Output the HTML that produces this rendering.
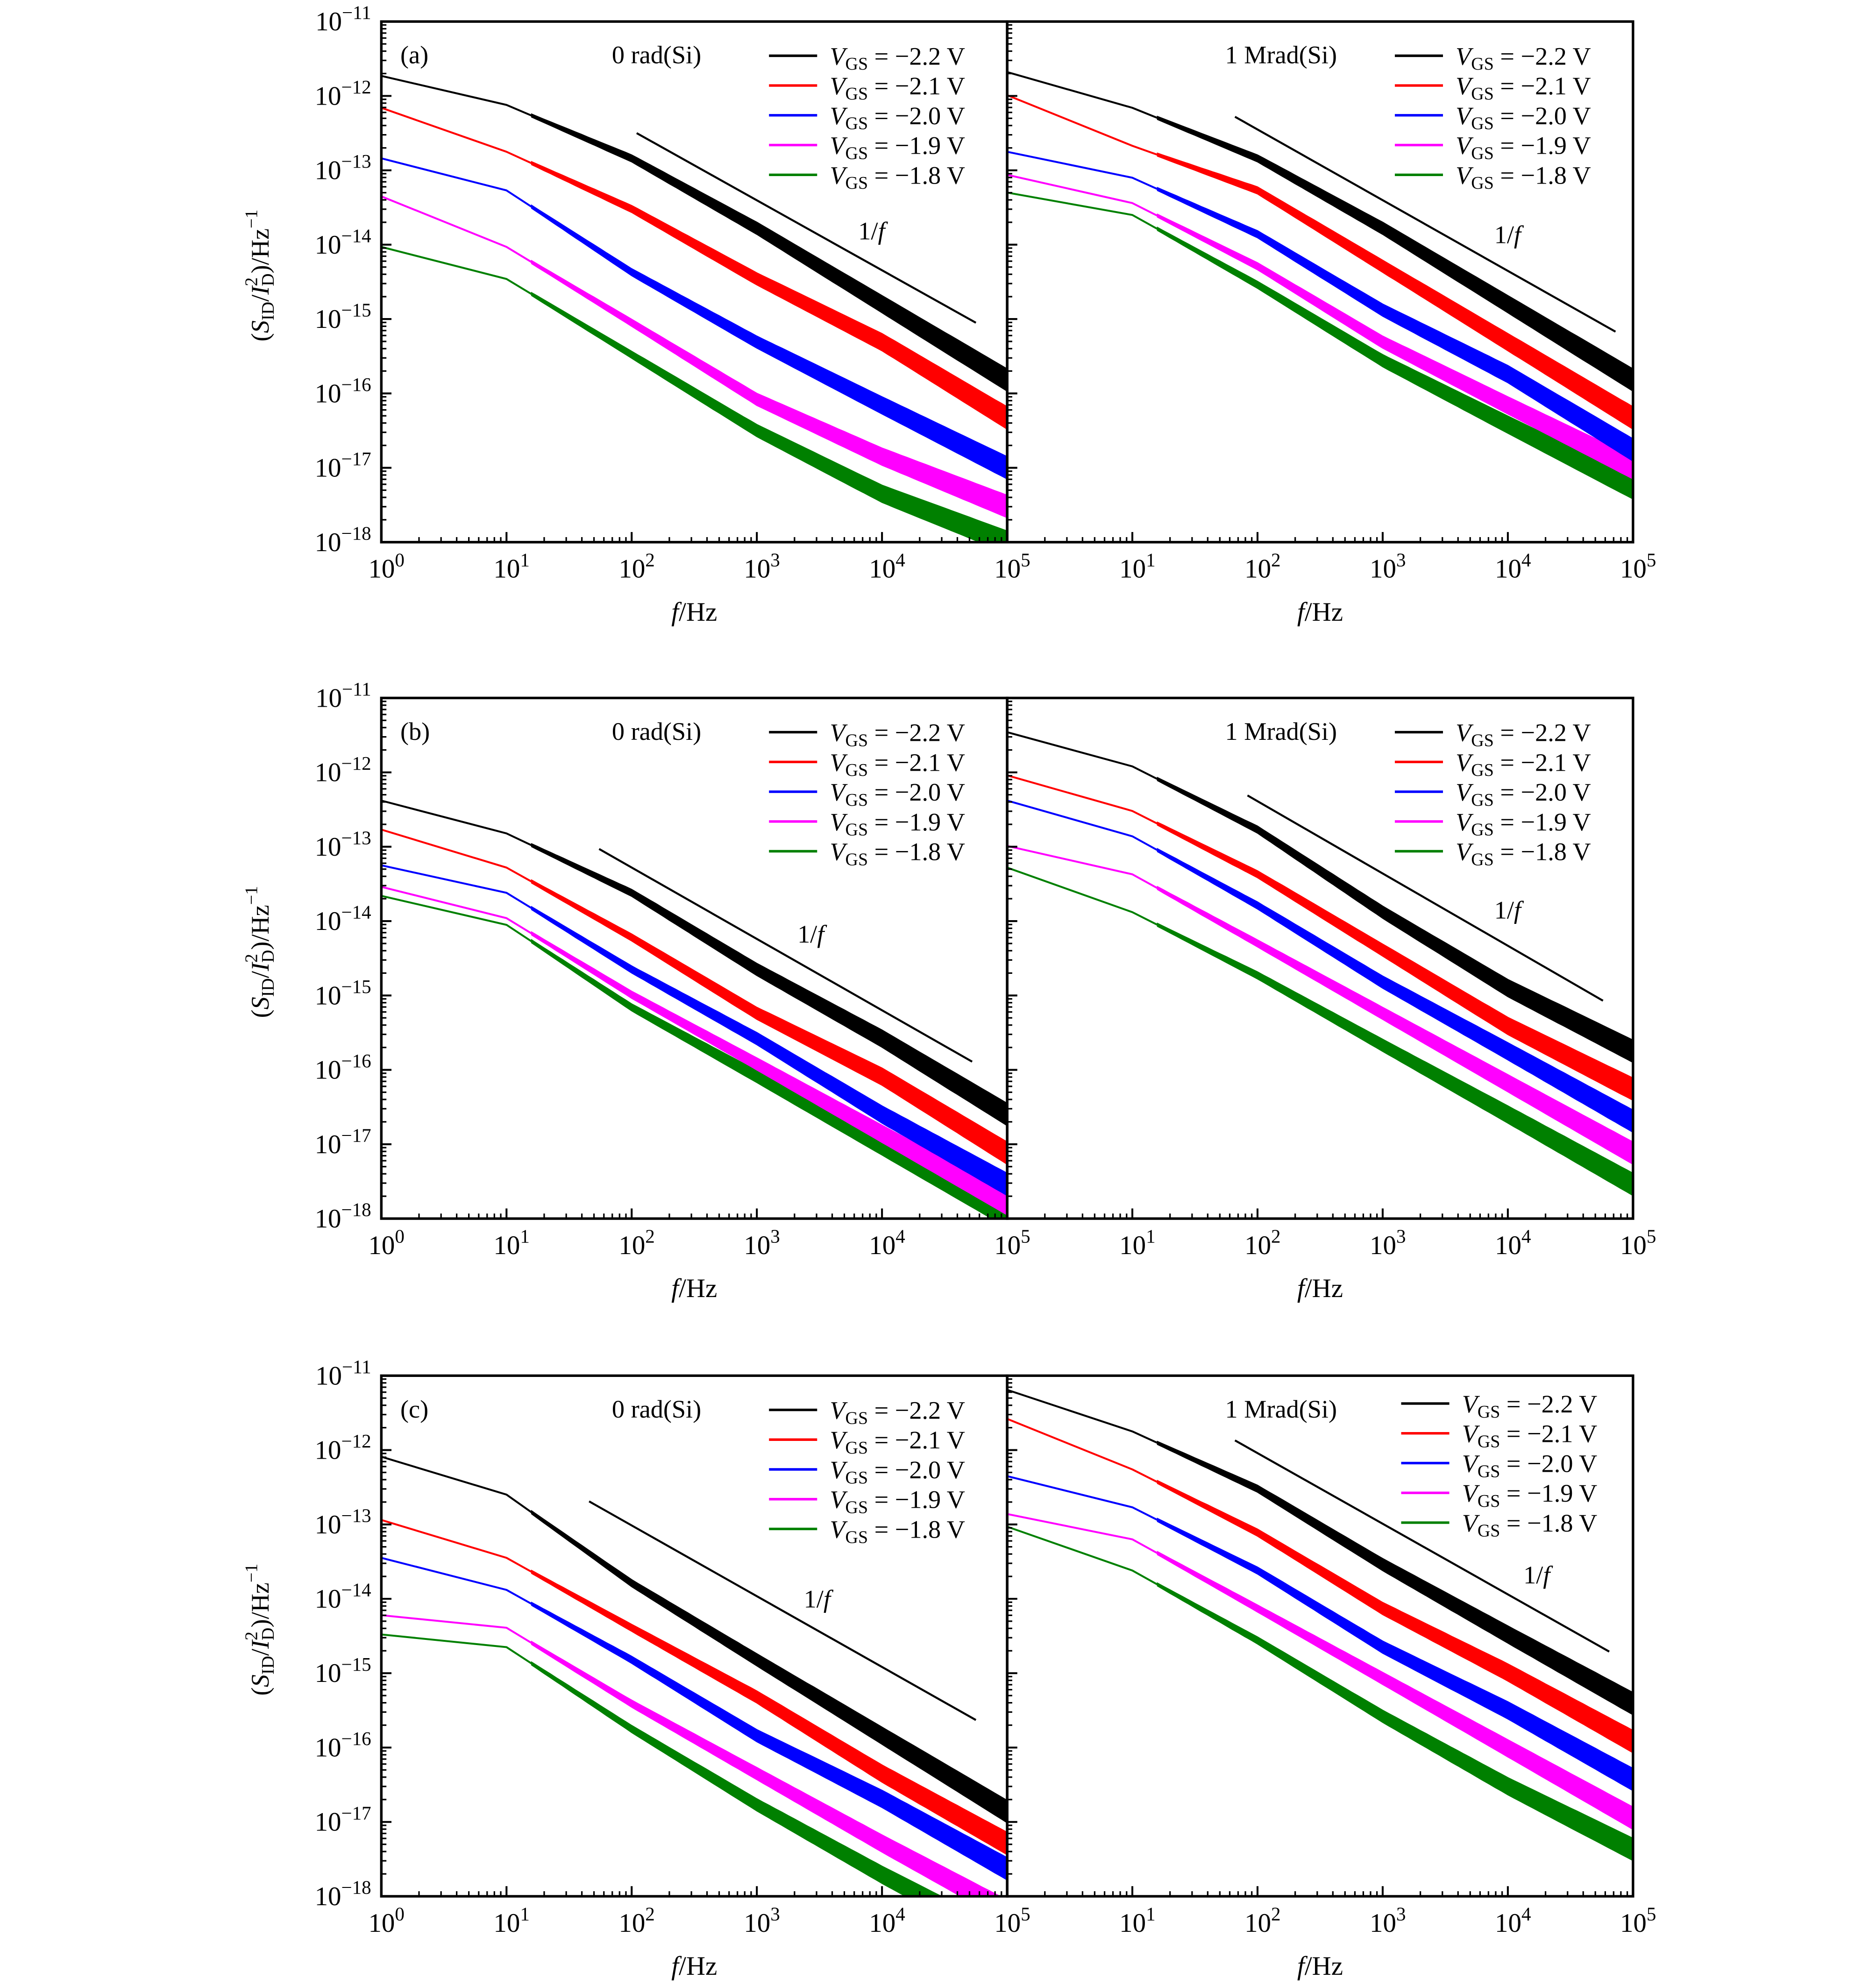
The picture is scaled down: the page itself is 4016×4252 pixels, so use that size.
<!DOCTYPE html>
<html><head><meta charset="utf-8"><style>
html,body{margin:0;padding:0;background:#fff;}
svg{display:block;}
text{font-family:"Liberation Serif",serif;fill:#000;}
</style></head><body>
<svg id="chart" xmlns="http://www.w3.org/2000/svg" width="4016" height="4252" viewBox="0 0 1480.8 1567.8">
</svg>
<script>
// ---- data (log10 of S_ID/I_D^2) at log10(f) anchors ----
const logF = [0, 1, 2, 3, 4, 5];
const seriesLabels = ["\u22122.2", "\u22122.1", "\u22122.0", "\u22121.9", "\u22121.8"];
const seriesColors = ["#000000", "#ff0000", "#0000ff", "#ff00ff", "#008000"];
const aLeftBlack = [-11.73, -12.12, -12.84, -13.78, -14.8, -15.82];
const aLeftRed = [-12.16, -12.75, -13.52, -14.46, -15.31, -16.33];
const aLeftBlue = [-12.84, -13.27, -14.37, -15.31, -16.16, -17.0];
const aLeftMagenta = [-13.35, -14.03, -15.05, -16.08, -16.85, -17.52];
const aLeftGreen = [-14.03, -14.46, -15.48, -16.5, -17.35, -18.0];
const aRightBlack = [-11.68, -12.16, -12.84, -13.78, -14.8, -15.82];
const aRightRed = [-11.99, -12.67, -13.27, -14.29, -15.31, -16.33];
const aRightBlue = [-12.75, -13.1, -13.86, -14.88, -15.74, -16.76];
const aRightMagenta = [-13.06, -13.44, -14.29, -15.31, -16.16, -17.0];
const aRightGreen = [-13.3, -13.6, -14.54, -15.56, -16.42, -17.27];
const bLeftBlack = [-12.38, -12.82, -13.62, -14.65, -15.58, -16.6];
const bLeftRed = [-12.77, -13.28, -14.22, -15.24, -16.09, -17.12];
const bLeftBlue = [-13.25, -13.62, -14.65, -15.58, -16.6, -17.54];
const bLeftMagenta = [-13.54, -13.96, -14.99, -15.92, -16.86, -17.8];
const bLeftGreen = [-13.66, -14.05, -15.16, -16.09, -17.03, -17.97];
const bRightBlack = [-11.46, -11.92, -12.77, -13.88, -14.9, -15.75];
const bRightRed = [-12.04, -12.52, -13.37, -14.39, -15.41, -16.26];
const bRightBlue = [-12.38, -12.86, -13.79, -14.82, -15.75, -16.69];
const bRightMagenta = [-12.99, -13.37, -14.3, -15.24, -16.18, -17.12];
const bRightGreen = [-13.28, -13.88, -14.73, -15.67, -16.6, -17.54];
const cLeftBlack = [-12.09, -12.6, -13.79, -14.82, -15.84, -16.86];
const cLeftRed = [-12.94, -13.45, -14.39, -15.32, -16.35, -17.29];
const cLeftBlue = [-13.45, -13.88, -14.82, -15.84, -16.69, -17.63];
const cLeftMagenta = [-14.22, -14.39, -15.41, -16.35, -17.29, -18.2];
const cLeftGreen = [-14.48, -14.65, -15.75, -16.77, -17.71, -18.6];
const cRightBlack = [-11.19, -11.75, -12.52, -13.54, -14.48, -15.41];
const cRightRed = [-11.58, -12.26, -13.11, -14.13, -14.99, -15.92];
const cRightBlue = [-12.35, -12.77, -13.62, -14.65, -15.5, -16.43];
const cRightMagenta = [-12.86, -13.2, -14.13, -15.07, -16.01, -16.95];
const cRightGreen = [-13.03, -13.62, -14.56, -15.58, -16.52, -17.37];
const yTickExp = [-11, -12, -13, -14, -15, -16, -17, -18];
const xTickExpLeft = [0, 1, 2, 3, 4, 5];
const xTickExpRight = [1, 2, 3, 4, 5];
// 1/f guide lines: [logf start, log value start, logf end, log value end]
const guideA_L = [2.04, -12.5, 4.75, -15.05];
const guideA_R = [1.82, -12.28, 4.86, -15.17];
const guideB_L = [1.74, -13.03, 4.72, -15.89];
const guideB_R = [1.92, -12.31, 4.76, -15.07];
const guideC_L = [1.66, -12.69, 4.75, -15.63];
const guideC_R = [1.82, -11.87, 4.81, -14.71];

const panels = [
 {row:0, side:0, tag:"(a)", title:"0 rad(Si)", series:[aLeftBlack,aLeftRed,aLeftBlue,aLeftMagenta,aLeftGreen], guide:guideA_L, slabel:[688,182]},
 {row:0, side:1, tag:null, title:"1 Mrad(Si)", series:[aRightBlack,aRightRed,aRightBlue,aRightMagenta,aRightGreen], guide:guideA_R, slabel:[1190,185]},
 {row:1, side:0, tag:"(b)", title:"0 rad(Si)", series:[bLeftBlack,bLeftRed,bLeftBlue,bLeftMagenta,bLeftGreen], guide:guideB_L, slabel:[640,737]},
 {row:1, side:1, tag:null, title:"1 Mrad(Si)", series:[bRightBlack,bRightRed,bRightBlue,bRightMagenta,bRightGreen], guide:guideB_R, slabel:[1190,718]},
 {row:2, side:0, tag:"(c)", title:"0 rad(Si)", series:[cLeftBlack,cLeftRed,cLeftBlue,cLeftMagenta,cLeftGreen], guide:guideC_L, slabel:[645,1262]},
 {row:2, side:1, tag:null, title:"1 Mrad(Si)", series:[cRightBlack,cRightRed,cRightBlue,cRightMagenta,cRightGreen], guide:guideC_R, slabel:[1213,1243], legShift:[5,-5]}
];

const NS = "http://www.w3.org/2000/svg";
const svg = document.getElementById("chart");
const rowTop = [17, 551, 1086];
const PH = 411, PW = 494, LEFT = 301;
function mk(tag, attrs, parent){ const e=document.createElementNS(NS,tag); for(const k in attrs) e.setAttribute(k,attrs[k]); (parent||svg).appendChild(e); return e; }
function interp(arr, lf){
  if(lf<=logF[0]) return arr[0];
  for(let i=1;i<logF.length;i++){ if(lf<=logF[i]){ const t=(lf-logF[i-1])/(logF[i]-logF[i-1]); return arr[i-1]+t*(arr[i]-arr[i-1]); } }
  return arr[arr.length-1];
}
function supText(parent, x, y, exp, anchor, size){
  const t = mk("text",{x:x,y:y,"font-size":size,"text-anchor":anchor},parent);
  
  
  const a = document.createElementNS(NS,"tspan"); a.textContent="10"; t.appendChild(a);
  const b = document.createElementNS(NS,"tspan"); b.setAttribute("dy",-9); b.setAttribute("font-size",size*0.72); b.textContent=(exp<0?"\u2212":"")+Math.abs(exp); t.appendChild(b);
  return t;
}

panels.forEach((p,pi)=>{
  const x0 = LEFT + p.side*PW, y0 = rowTop[p.row];
  const xS = lf => x0 + lf/5*PW;
  const yS = lv => y0 + (-11 - lv)/7*PH;
  const g = mk("g",{});
  
  
  const cid = "clip"+pi;
  const cp = mk("clipPath",{id:cid},g); mk("rect",{x:x0,y:y0,width:PW,height:PH},cp);
  const dg = mk("g",{"clip-path":"url(#"+cid+")"},g);
  for(let s=p.series.length-1;s>=0;s--){
    const arr=p.series[s];
    let d="";
    logF.forEach((lf,i)=>{ d+=(i?"L":"M")+xS(lf).toFixed(1)+","+yS(arr[i]).toFixed(1); });
    const ln = mk("path",{d:d,fill:"none",stroke:seriesColors[s],"stroke-width":1.5,"stroke-linejoin":"round"},dg);
    
    
    // noise envelope (band thickness grows with frequency)
    const up=[], lo=[];
    for(let lf=1.2; lf<=5.001; lf+=0.05){
      const v=interp(arr,lf); const hw=0.02+0.13*(lf-1.2)/3.8;
      up.push(xS(lf).toFixed(1)+","+yS(v+hw).toFixed(1));
      lo.unshift(xS(lf).toFixed(1)+","+yS(v-hw).toFixed(1));
    }
    const band = mk("polygon",{points:up.concat(lo).join(" "),fill:seriesColors[s],stroke:seriesColors[s],"stroke-width":0.8},dg);
    
    
  }
  const gl = mk("line",{x1:xS(p.guide[0]),y1:yS(p.guide[1]),x2:xS(p.guide[2]),y2:yS(p.guide[3]),stroke:"#000","stroke-width":1.6},g);
  
  
  const gt = mk("text",{x:p.slabel[0],y:p.slabel[1]+7,"font-size":20,"text-anchor":"middle"},g);
  
  
  gt.innerHTML='1/<tspan font-style="italic">f</tspan>';
  const fr = mk("rect",{x:x0,y:y0,width:PW,height:PH,fill:"none",stroke:"#000","stroke-width":2},g);
  
  
  for(let e=-11;e>=-18;e--){
    const yy=yS(e);
    mk("line",{x1:x0,y1:yy,x2:x0+8,y2:yy,stroke:"#000","stroke-width":1.5},g);
    if(e>-18) for(let m=2;m<=9;m++){ const ym=yS(e-1+Math.log10(m)); mk("line",{x1:x0,y1:ym,x2:x0+4,y2:ym,stroke:"#000","stroke-width":1.2},g); }
  }
  for(let e=0;e<=5;e++){
    const xx=xS(e);
    mk("line",{x1:xx,y1:y0+PH,x2:xx,y2:y0+PH-8,stroke:"#000","stroke-width":1.5},g);
    if(e<5) for(let m=2;m<=9;m++){ const xm=xS(e+Math.log10(m)); mk("line",{x1:xm,y1:y0+PH,x2:xm,y2:y0+PH-4,stroke:"#000","stroke-width":1.2},g); }
  }
  if(p.side===0){
    yTickExp.forEach(e=>supText(g, x0-8, yS(e)+7, e, "end", 21));
    const yt = mk("text",{x:0,y:0,"font-size":20,"text-anchor":"middle",transform:"translate(212,"+(y0+PH/2-5)+") rotate(-90)"},g);
    
    
    yt.innerHTML='(<tspan font-style="italic">S</tspan><tspan font-size="14" dy="4">ID</tspan><tspan dy="-4">/</tspan><tspan font-style="italic">I</tspan><tspan font-size="14" dy="-9">2</tspan><tspan font-size="14" dx="-7" dy="13">D</tspan><tspan dy="-4">)/Hz</tspan><tspan font-size="14" dy="-9">\u22121</tspan>';
  }
  (p.side===0?xTickExpLeft:xTickExpRight).forEach(e=>supText(g, xS(e)+4, y0+PH+28, e, "middle", 21));
  const xt = mk("text",{x:x0+PW/2,y:y0+PH+62,"font-size":21,"text-anchor":"middle"},g);
  
  
  xt.innerHTML='<tspan font-style="italic">f</tspan>/Hz';
  if(p.tag){ const tg=mk("text",{x:x0+15,y:y0+33,"font-size":20},g);
    
    
    tg.textContent=p.tag; }
  const tt = mk("text",{x:x0+(p.side?172:182),y:y0+33,"font-size":20},g);
  
  
  tt.textContent=p.title;
  const sh = p.legShift||[0,0];
  const lg = mk("g",{},g);
  
  
  seriesLabels.forEach((lab,i)=>{
    const ly = y0+27+i*23.5+sh[1];
    const lx = x0+306+sh[0];
    const ent = mk("g",{},lg);
    
    
    mk("line",{x1:lx,y1:ly,x2:lx+38,y2:ly,stroke:seriesColors[i],"stroke-width":2},ent);
    const t = mk("text",{x:lx+48,y:ly+7,"font-size":20},ent);
    t.innerHTML='<tspan font-style="italic">V</tspan><tspan font-size="14" dy="4">GS</tspan><tspan dy="-4"> = '+lab+' V</tspan>';
  });
});
</script>
</body></html>
